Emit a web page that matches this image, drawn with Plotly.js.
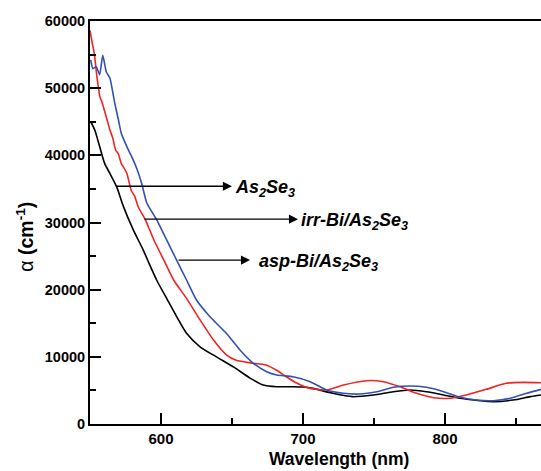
<!DOCTYPE html>
<html>
<head>
<meta charset="utf-8">
<script src="https://cdn.plot.ly/plotly-3.0.1.min.js"></script>
<style>
  html, body { margin: 0; padding: 0; background: #fff; }
  #chart { width: 541px; height: 471px; }
</style>
</head>
<body>
<div id="chart"></div>
<script>
// Absorption coefficient spectra (wavelength in nm, alpha in cm^-1)
const wlAs2Se3 = [550.5, 553.3, 556.8, 560.3, 564, 568.8, 573.5, 580.5, 587.5, 591, 597, 604, 611, 618, 627.5, 639, 651, 663, 672, 681.5, 693, 700, 707, 721, 735, 749.5, 763.6, 775.4, 787, 799, 810.6, 824.6, 834, 848, 860, 867.6];
const alphaAs2Se3 = [45000, 43800, 41300, 38800, 37300, 35300, 32400, 28900, 25900, 24200, 21400, 18700, 16000, 13500, 11500, 10000, 8500, 6800, 5800, 5550, 5550, 5500, 5300, 4570, 4070, 4320, 4810, 5060, 4810, 4320, 3830, 3470, 3320, 3570, 4070, 4320];

const wlIrr = [550, 551.5, 553, 555, 557, 558.5, 560, 562, 564, 566, 568, 570, 572, 574, 576, 579, 581.5, 584, 589, 595, 602, 609, 618, 627.5, 637, 646, 653, 663, 674, 681.5, 688.5, 695.6, 705, 716.7, 728.4, 744.8, 756.6, 768.3, 780, 792, 803.5, 815, 829, 843, 855, 867.6];
const alphaIrr = [58600, 56800, 55200, 51500, 48700, 47900, 46800, 45300, 43800, 42600, 40800, 40200, 38800, 38100, 37300, 34800, 33900, 32300, 30400, 27400, 24400, 21400, 18700, 15500, 12500, 10300, 9500, 9100, 8800, 8000, 7000, 6100, 5300, 5060, 5800, 6450, 6300, 5550, 4570, 3920, 3830, 4320, 5160, 6060, 6200, 6150];

const wlAsp = [550.5, 552, 554.4, 556.8, 559, 561.5, 564, 567.4, 570, 572, 574.5, 577, 580, 583, 586.4, 590, 597, 604, 611, 618, 625, 634.5, 646, 655.6, 665, 674.4, 681.5, 693, 705, 716.7, 728.4, 740, 752, 763.6, 775.4, 787, 799, 810.6, 822, 834, 846, 857.5, 867.6];
const alphaAsp = [54200, 52900, 53200, 52000, 54900, 52400, 51500, 47800, 45300, 43300, 42000, 40800, 39500, 38000, 35800, 32900, 30400, 27400, 24400, 21440, 18460, 15970, 13500, 11020, 9040, 7790, 7300, 7040, 6300, 5060, 4570, 4470, 4810, 5460, 5660, 5460, 4810, 3970, 3570, 3470, 3830, 4570, 5160];

// Labels with arrows: arrow tail on the curve, head at the label
const labelText = ['As<sub>2</sub>Se<sub>3</sub>', 'irr-Bi/As<sub>2</sub>Se<sub>3</sub>', 'asp-Bi/As<sub>2</sub>Se<sub>3</sub>'];
const labelTailX = [567.6, 587.3, 611.3];
const labelHeadX = [650.0, 696.5, 662.7];
const labelTextX = [650.5, 697.0, 667.6];
const labelY = [35400, 30500, 24400];

const boldFont = { family: 'Liberation Sans, Arial, sans-serif', color: '#000', weight: 'bold' };

const traces = [
  { x: wlAs2Se3, y: alphaAs2Se3, name: 'As2Se3', line: { color: '#000000', width: 1.6, shape: 'spline', smoothing: 0.7 } },
  { x: wlIrr, y: alphaIrr, name: 'irr-Bi/As2Se3', line: { color: '#ee2424', width: 1.6, shape: 'spline', smoothing: 0.5 } },
  { x: wlAsp, y: alphaAsp, name: 'asp-Bi/As2Se3', line: { color: '#3450b4', width: 1.6, shape: 'spline', smoothing: 0.5 } }
].map(t => Object.assign({ type: 'scatter', mode: 'lines', hoverinfo: 'skip' }, t));

const annotations = [];
for (let i = 0; i < labelText.length; i++) {
  annotations.push({
    x: labelHeadX[i], y: labelY[i], xref: 'x', yref: 'y',
    ax: labelTailX[i], ay: labelY[i], axref: 'x', ayref: 'y',
    text: '', showarrow: true, arrowhead: 2, arrowsize: 1.3, arrowwidth: 1.4,
    arrowcolor: '#000', standoff: 0, startstandoff: 0
  });
  annotations.push({
    x: labelTextX[i], y: labelY[i], xref: 'x', yref: 'y',
    text: labelText[i], showarrow: false, xanchor: 'left', yanchor: 'middle', yshift: -2,
    font: Object.assign({}, boldFont, { size: 18, style: 'italic' })
  });
}

// Axis titles
annotations.push({
  x: 0.552, y: -0.087, xref: 'paper', yref: 'paper', showarrow: false,
  xanchor: 'center', yanchor: 'middle',
  text: 'Wavelength (nm)', font: Object.assign({}, boldFont, { size: 17.5 })
});
annotations.push({
  x: -0.146, y: 0.465, xref: 'paper', yref: 'paper', showarrow: false,
  xanchor: 'center', yanchor: 'middle', textangle: -90,
  text: '<span style="font-weight:normal">α</span> (cm<sup>-1</sup>)',
  font: Object.assign({}, boldFont, { size: 19.5 })
});

const layout = {
  width: 541, height: 471,
  margin: { l: 90, r: 0, t: 21, b: 47, pad: 0 },
  paper_bgcolor: '#fff', plot_bgcolor: '#fff',
  showlegend: false,
  xaxis: {
    range: [550, 867.6], tickmode: 'linear', tick0: 600, dtick: 100,
    ticks: 'inside', ticklen: 11, tickwidth: 2, tickcolor: '#000',
    minor: { tickmode: 'linear', tick0: 650, dtick: 100, ticks: 'inside', ticklen: 6, tickwidth: 2, tickcolor: '#000' },
    showline: true, linewidth: 2, linecolor: '#000', mirror: true,
    showgrid: false, zeroline: false,
    tickfont: Object.assign({}, boldFont, { size: 15 })
  },
  yaxis: {
    range: [0, 60000], tickmode: 'linear', tick0: 0, dtick: 10000,
    ticks: 'inside', ticklen: 11, tickwidth: 2, tickcolor: '#000',
    minor: { tickmode: 'linear', tick0: 5000, dtick: 10000, ticks: 'inside', ticklen: 6, tickwidth: 2, tickcolor: '#000' },
    showline: true, linewidth: 2, linecolor: '#000',
    showgrid: false, zeroline: false,
    tickformat: 'd',
    tickfont: Object.assign({}, boldFont, { size: 14.5 })
  },
  annotations: annotations
};

Plotly.newPlot('chart', traces, layout, { staticPlot: true, displayModeBar: false });
</script>
</body>
</html>
